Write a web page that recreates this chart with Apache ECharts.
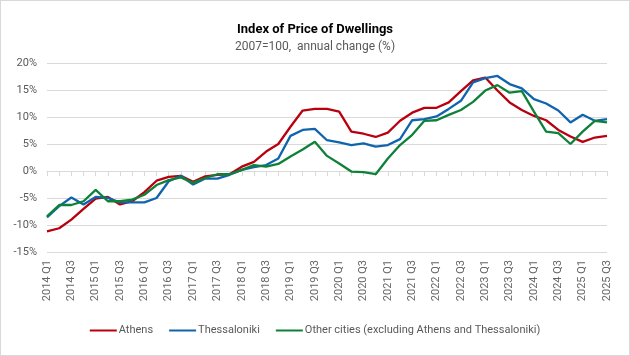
<!DOCTYPE html>
<html><head><meta charset="utf-8">
<script src="https://cdn.jsdelivr.net/npm/echarts@6/dist/echarts.min.js"></script>
<style>html,body{margin:0;padding:0;background:#fff}#c{width:628px;height:354px;border:1px solid #d9d9d9}</style>
</head><body><div id="c"></div>
<script>
const years = [2014,2015,2016,2017,2018,2019,2020,2021,2022,2023,2024,2025];
const quarters = [];
years.forEach(y => ['Q1','Q2','Q3','Q4'].forEach(q => { if (!(y === 2025 && q === 'Q4')) quarters.push(y + ' ' + q); }));
const athens = [-11.2,-10.6,-9.0,-7.0,-5.1,-4.8,-6.2,-5.6,-3.9,-1.8,-1.1,-0.9,-2.0,-1.0,-0.7,-0.6,0.8,1.7,3.6,5.0,8.2,11.2,11.5,11.5,11.0,7.3,6.9,6.3,7.1,9.3,10.8,11.7,11.7,12.7,14.8,16.8,17.3,14.9,12.7,11.3,10.2,9.4,7.6,6.4,5.4,6.2,6.5];
const thessaloniki = [-8.6,-6.5,-4.9,-6.2,-4.8,-5.0,-5.8,-5.8,-5.8,-5.0,-1.9,-0.9,-2.5,-1.4,-1.4,-0.7,0.2,0.7,1.1,2.3,6.5,7.6,7.8,5.7,5.3,4.8,5.1,4.5,4.8,5.9,9.4,9.6,10.1,11.5,13.0,16.4,17.2,17.6,16.1,15.3,13.3,12.5,11.2,9.0,10.4,9.3,9.6];
const otherCities = [-8.4,-6.3,-6.3,-5.6,-3.5,-5.6,-5.6,-5.3,-4.4,-2.6,-1.7,-1.2,-2.2,-1.3,-0.6,-0.6,0.2,1.1,0.8,1.3,2.7,4.0,5.4,2.8,1.4,-0.1,-0.2,-0.6,2.3,4.8,6.7,9.3,9.4,10.4,11.3,12.8,14.9,15.9,14.5,14.8,11.0,7.3,7.0,5.0,7.3,9.3,9.0];
const seriesNames = ['Athens','Thessaloniki','Other cities (excluding Athens and Thessaloniki)'];
const colors = ['#b8000f','#0f64ad','#0e8139'];

const chart = echarts.init(document.getElementById('c'));
const font = 'Roboto, "Liberation Sans", sans-serif';
chart.setOption({
  animation: false,
  color: colors,
  title: {
    text: 'Index of Price of Dwellings',
    subtext: '2007=100,  annual change (%)',
    left: 'center', top: 17, itemGap: 5,
    textStyle: {fontFamily: '"Liberation Sans Narrow", ' + font, fontSize: 13, fontWeight: 'bold', color: '#000'},
    subtextStyle: {fontFamily: '"Liberation Sans Narrow", ' + font, fontSize: 12, color: '#595959'}
  },
  legend: {
    bottom: 14, left: 'center', itemWidth: 27, itemHeight: 2, itemGap: 16,
    icon: 'rect',
    textStyle: {fontFamily: font, fontSize: 11, color: '#595959', padding: [0,0,0,-3]},
    data: seriesNames
  },
  grid: {left: 46, right: 22, top: 62, bottom: 103, containLabel: false},
  xAxis: {
    type: 'category', data: quarters, boundaryGap: false,
    axisLine: {lineStyle: {color: '#d9d9d9'}},
    axisTick: {show: true, interval: 0, length: 5, lineStyle: {color: '#d9d9d9'}},
    axisLabel: {interval: 1, rotate: 90, fontFamily: font, fontSize: 11, color: '#666666', margin: 8}
  },
  yAxis: {
    type: 'value', min: -15, max: 20, interval: 5,
    axisLine: {show: false}, axisTick: {show: false},
    splitLine: {lineStyle: {color: '#d9d9d9'}},
    axisLabel: {formatter: '{value}%', fontFamily: font, fontSize: 11, color: '#595959', margin: 10}
  },
  series: [athens, thessaloniki, otherCities].map((d, i) => ({
    name: seriesNames[i], type: 'line', data: d, showSymbol: false, symbol: 'none',
    lineStyle: {width: 2.3, color: colors[i]}
  }))
});
</script></body></html>
